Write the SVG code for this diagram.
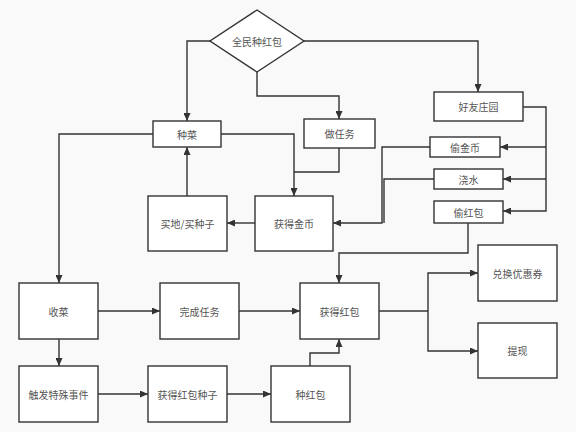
<svg xmlns="http://www.w3.org/2000/svg" width="576" height="432" viewBox="0 0 576 432">
<style>
.n{fill:#ffffff;stroke:#333333;stroke-width:1.4}
.t{font-family:"Noto Sans CJK SC","Noto Sans",sans-serif;font-size:10px;fill:#555555;text-anchor:middle;dominant-baseline:central}
.c{fill:none;stroke:#333333;stroke-width:1.4}
.a{marker-end:url(#ah)}
</style>
<defs>
<marker id="ah" markerUnits="userSpaceOnUse" markerWidth="8" markerHeight="7" refX="8" refY="3.5" orient="auto">
<path d="M0,0 L8,3.5 L0,7 z" fill="#333333"/>
</marker>
</defs>
<rect width="576" height="432" fill="#f9f9f9"/>
<g id="connectors">
<path class="c a" d="M210,41 H187 V121"/>
<path class="c a" d="M257,72 V96 H339 V119"/>
<path class="c a" d="M303,41 H478 V92"/>
<path class="c a" d="M221,134 H294 V196"/>
<path class="c" d="M339,148 V172 H294"/>
<path class="c a" d="M255,223 H227"/>
<path class="c a" d="M187,196 V147"/>
<path class="c a" d="M153,134 H59 V283"/>
<path class="c a" d="M523,107 H546 V211 H503"/>
<path class="c a" d="M546,147 H500"/>
<path class="c a" d="M546,179 H503"/>
<path class="c a" d="M430,147 H382 V223 H333"/>
<path class="c" d="M434,179 H384 V223"/>
<path class="c a" d="M468,223 V253 H339 V283"/>
<path class="c a" d="M98,311 H160"/>
<path class="c a" d="M239,311 H300"/>
<path class="c a" d="M59,339 V366"/>
<path class="c a" d="M98,394 H148"/>
<path class="c a" d="M227,394 H271"/>
<path class="c a" d="M310,366 V353 H339 V339"/>
<path class="c" d="M379,311 H428"/>
<path class="c a" d="M428,311 V273 H478"/>
<path class="c a" d="M428,311 V351 H478"/>
</g>
<g id="start"><path class="n" d="M257,10 L304,41 L257,72 L210,41 Z"/><text class="t" x="257" y="41">全民种红包</text></g>
<g id="zhongcai"><rect class="n" x="153" y="121" width="68" height="26"/><text class="t" x="187" y="134">种菜</text></g>
<g id="zuorenwu"><rect class="n" x="304" y="119" width="71" height="29"/><text class="t" x="339.5" y="133.5">做任务</text></g>
<g id="haoyou"><rect class="n" x="434" y="92" width="89" height="29"/><text class="t" x="478.5" y="106.5">好友庄园</text></g>
<g id="toujinbi"><rect class="n" x="430" y="137" width="70" height="20"/><text class="t" x="465" y="147">偷金币</text></g>
<g id="jiaoshui"><rect class="n" x="434" y="169" width="69" height="20"/><text class="t" x="468.5" y="179">浇水</text></g>
<g id="touhongbao"><rect class="n" x="434" y="201" width="69" height="22"/><text class="t" x="468.5" y="212">偷红包</text></g>
<g id="huodejinbi"><rect class="n" x="255" y="196" width="78" height="55"/><text class="t" x="294" y="223.5">获得金币</text></g>
<g id="maidi"><rect class="n" x="148" y="196" width="79" height="55"/><text class="t" x="187.5" y="223.5">买地/买种子</text></g>
<g id="shoucai"><rect class="n" x="19" y="283" width="79" height="56"/><text class="t" x="58.5" y="311">收菜</text></g>
<g id="wancheng"><rect class="n" x="160" y="283" width="79" height="56"/><text class="t" x="199.5" y="311">完成任务</text></g>
<g id="huodehongbao"><rect class="n" x="300" y="283" width="79" height="56"/><text class="t" x="339.5" y="311">获得红包</text></g>
<g id="chufa"><rect class="n" x="19" y="366" width="79" height="56"/><text class="t" x="58.5" y="394">触发特殊事件</text></g>
<g id="zhongzi"><rect class="n" x="148" y="366" width="79" height="56"/><text class="t" x="187.5" y="394">获得红包种子</text></g>
<g id="zhonghongbao"><rect class="n" x="271" y="366" width="79" height="56"/><text class="t" x="310.5" y="394">种红包</text></g>
<g id="duihuan"><rect class="n" x="478" y="245" width="79" height="56"/><text class="t" x="517.5" y="273">兑换优惠券</text></g>
<g id="tixian"><rect class="n" x="478" y="323" width="79" height="55"/><text class="t" x="517.5" y="350.5">提现</text></g>
</svg>
